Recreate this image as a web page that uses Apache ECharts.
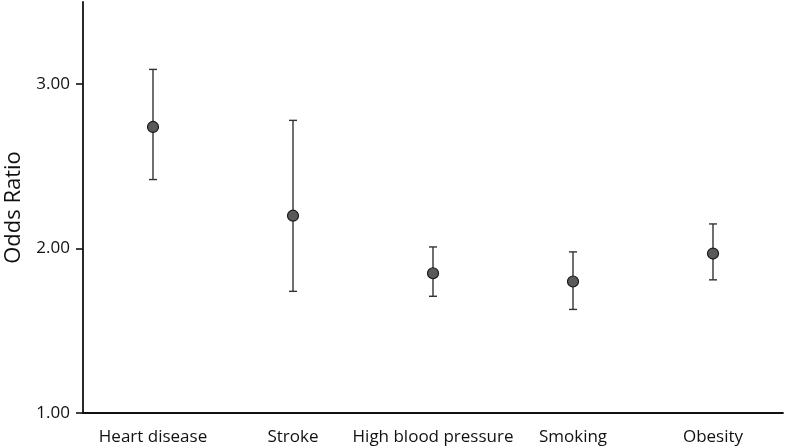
<!DOCTYPE html>
<html><head><meta charset="utf-8">
<script src="https://cdn.jsdelivr.net/npm/echarts@6/dist/echarts.min.js"></script>
<style>html,body{margin:0;padding:0;background:#fff}#c{width:785px;height:448px}</style>
</head><body><div id="c"></div>
<script>
var categories = ['Heart disease','Stroke','High blood pressure','Smoking','Obesity'];
var oddsRatio = [2.74, 2.20, 1.85, 1.80, 1.97];
var lowerCI = [2.42, 1.74, 1.71, 1.63, 1.81];
var upperCI = [3.09, 2.78, 2.01, 1.98, 2.15];
var yTicks = [1, 2, 3];

var font = 'Open Sans';
var chart = echarts.init(document.getElementById('c'), null, {renderer:'canvas'});
var errData = categories.map(function(c,i){return [i, lowerCI[i], upperCI[i]];});
chart.setOption({
  animation:false,
  grid:{left:83,right:2,top:2,bottom:35,containLabel:false,outerBoundsMode:'none'},
  xAxis:{type:'category',data:categories,boundaryGap:true,
    axisLine:{lineStyle:{color:'#111',width:1.8}},
    axisTick:{alignWithLabel:true,length:7,lineStyle:{color:'#111',width:1.6}},
    axisLabel:{color:'#111',fontFamily:font,fontSize:17,margin:16,interval:0}},
  yAxis:{type:'value',min:1,max:3.5,interval:1,
    name:'Odds Ratio',nameLocation:'middle',nameGap:58,
    nameTextStyle:{color:'#111',fontFamily:font,fontSize:22},
    splitLine:{show:false},
    axisLine:{show:true,lineStyle:{color:'#111',width:1.8}},
    axisTick:{show:true,length:7,customValues:yTicks,lineStyle:{color:'#111',width:1.6}},
    axisLabel:{color:'#111',fontFamily:font,fontSize:17,margin:13,customValues:yTicks,
      formatter:function(v){return v.toFixed(2);}}},
  series:[
    {type:'custom',data:errData,z:2,
     renderItem:function(params,api){
       var x=api.value(0);
       var lo=api.coord([x,api.value(1)]);
       var hi=api.coord([x,api.value(2)]);
       var w=4;
       var st={stroke:'#333',lineWidth:1.4};
       return {type:'group',children:[
         {type:'line',shape:{x1:lo[0],y1:lo[1],x2:hi[0],y2:hi[1]},style:st},
         {type:'line',shape:{x1:lo[0]-w,y1:lo[1],x2:lo[0]+w,y2:lo[1]},style:st},
         {type:'line',shape:{x1:hi[0]-w,y1:hi[1],x2:hi[0]+w,y2:hi[1]},style:st}
       ]};
     }},
    {type:'scatter',data:oddsRatio,z:3,symbol:'circle',symbolSize:11,
     itemStyle:{color:'#5a5a5a',borderColor:'#1a1a1a',borderWidth:1.2,opacity:1}}
  ]
});
</script></body></html>
